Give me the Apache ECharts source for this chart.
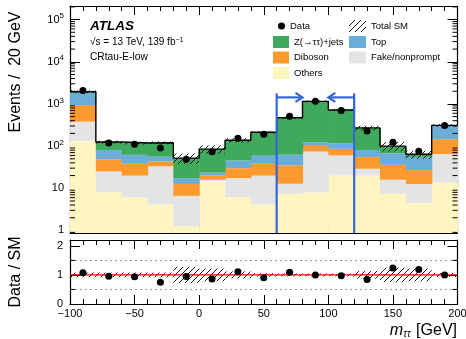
<!DOCTYPE html>
<html>
<head>
<meta charset="utf-8">
<script src="https://cdn.jsdelivr.net/npm/echarts@6/dist/echarts.min.js"></script>
<style>
  html, body { margin: 0; padding: 0; background: #fff; }
  #chart { width: 466px; height: 339px; }
</style>
</head>
<body>
<div id="chart"></div>
<script>
// m_tautau distribution in CRtau-E-low, 20 GeV bins from -100 to 200 GeV
const binLowEdges = [-100, -80, -60, -40, -20, 0, 20, 40, 60, 80, 100, 120, 140, 160, 180];
const binWidth = 20;

// Expected yields per process (events / bin)
const others        = [133, 8.1, 6.1, 4.1, 1.25, 15, 6.2, 4.1, 7.3, 7.9, 20, 20, 7.4, 4.5, 13.7];
const fakeNonprompt = [247, 16.9, 13.9, 28.9, 5.35, 0.8, 11.2, 15.9, 5.5, 66, 40, 9, 8.5, 8.1, 51.3];
const diboson       = [560, 24, 18, 10, 6.0, 4.2, 12.6, 18, 22.2, 27, 26, 26, 20, 14.4, 81];
const topQuark      = [910, 32, 24, 13, 4.8, 3.5, 15.5, 21, 27, 23, 31, 26, 32, 28, 154];
const zTauTau       = [100, 44, 56, 64, 34.6, 61.5, 92.5, 154, 408, 1026, 603, 189, 32, 9, 10];

// Observed events per bin
const dataCounts    = [2090, 119, 111, 90, 49, 73, 153, 192, 512, 1150, 698, 227, 124, 76, 310];

// Relative uncertainty on the total SM prediction
const relUncertainty = [0.08, 0.08, 0.08, 0.08, 0.28, 0.22, 0.12, 0.06, 0.05, 0.05, 0.05, 0.13, 0.25, 0.22, 0.07];

// Signal-region mass window and arrow annotations (GeV, events)
const massWindow = [60, 120];
const arrowTips = [80, 100];
const arrowLevel = 1430;
const windowLineTop = 1780;

const FONT = '"Liberation Sans", Arial, Helvetica, sans-serif';
const Y_MIN = 0.87, Y_MAX = 2.1e5;
const R_MIN = 0, R_MAX = 2.2;

const layers = [
  { name: 'Others',         values: others,        color: '#fff5c0' },
  { name: 'Fake/nonprompt', values: fakeNonprompt, color: '#e4e4e4' },
  { name: 'Diboson',        values: diboson,       color: '#fd9a2e' },
  { name: 'Top',            values: topQuark,      color: '#6aaed8' },
  { name: 'Z(\u2192\u03c4\u03c4)+jets', values: zTauTau, color: '#40aa5c' }
];

// cumulative stack
const cumulative = [];
let running = binLowEdges.map(() => 0);
layers.forEach(layer => {
  const lower = running.slice();
  running = running.map((v, i) => v + layer.values[i]);
  cumulative.push({ lower, upper: running.slice() });
});
const totalSM = running;
const centers = binLowEdges.map(x => x + binWidth / 2);
const ratio = dataCounts.map((d, i) => d / totalSM[i]);

// diagonal hatch pattern
function makeHatch() {
  const c = document.createElement('canvas');
  c.width = 6; c.height = 6;
  const g = c.getContext('2d');
  g.strokeStyle = '#000';
  g.lineWidth = 0.9;
  g.beginPath();
  g.moveTo(0, 6); g.lineTo(6, 0);
  g.moveTo(-1, 1); g.lineTo(1, -1);
  g.moveTo(5, 7); g.lineTo(7, 5);
  g.stroke();
  return c;
}
const hatch = { image: makeHatch(), repeat: 'repeat' };

function rectRenderer(fill, overlap) {
  return function (params, api) {
    const lo = api.coord([api.value(0), api.value(2)]);
    const hi = api.coord([api.value(1), api.value(3)]);
    return {
      type: 'rect',
      shape: { x: lo[0], y: hi[1], width: hi[0] - lo[0] + overlap, height: lo[1] - hi[1] },
      style: { fill: fill }
    };
  };
}

// ticks drawn on the left and right frame edges
function edgeTickRenderer(xLeft, xRight, len) {
  return function (params, api) {
    const pL = api.coord([xLeft, api.value(1)]);
    const pR = api.coord([xRight, api.value(1)]);
    return {
      type: 'group',
      children: [
        { type: 'line', shape: { x1: pL[0], y1: pL[1], x2: pL[0] + len, y2: pL[1] }, style: { stroke: '#000', lineWidth: 1 } },
        { type: 'line', shape: { x1: pR[0] - len, y1: pR[1], x2: pR[0], y2: pR[1] }, style: { stroke: '#000', lineWidth: 1 } }
      ]
    };
  };
}

const logMinorTicks = [];
for (let e = -1; e <= 5; e++) {
  for (let m = 2; m <= 9; m++) {
    const v = m * Math.pow(10, e);
    if (v > Y_MIN && v < Y_MAX) logMinorTicks.push([-100, v]);
  }
}
const ratioMinorTicks = [[-100, 0.5], [-100, 1.5]];

const series = [];

layers.forEach((layer, k) => {
  series.push({
    type: 'custom', name: layer.name, xAxisIndex: 0, yAxisIndex: 0, clip: true,
    itemStyle: { color: layer.color },
    renderItem: rectRenderer(layer.color, 0.6),
    encode: { x: [0, 1], y: [2, 3] },
    data: binLowEdges.map((x, i) => [x, x + binWidth, k === 0 ? Y_MIN : cumulative[k].lower[i], cumulative[k].upper[i]]),
    z: 2
  });
});

series.push({
  type: 'custom', name: 'Total SM', xAxisIndex: 0, yAxisIndex: 0, clip: true,
  itemStyle: { color: hatch },
  renderItem: rectRenderer(hatch, 0),
  encode: { x: [0, 1], y: [2, 3] },
  data: binLowEdges.map((x, i) => [x, x + binWidth, totalSM[i] * (1 - relUncertainty[i]), totalSM[i] * (1 + relUncertainty[i])]),
  z: 3
});

const outline = [];
binLowEdges.forEach((x, i) => { outline.push([x, totalSM[i]]); outline.push([x + binWidth, totalSM[i]]); });
series.push({
  type: 'line', name: 'outline', xAxisIndex: 0, yAxisIndex: 0, data: outline,
  symbol: 'none', lineStyle: { color: '#000', width: 1.4 }, z: 4, silent: true
});

series.push({
  type: 'custom', name: 'window', xAxisIndex: 0, yAxisIndex: 0, clip: true, z: 5,
  encode: { x: [0, 1], y: [2, 3] },
  data: massWindow.map((x, i) => [x, arrowTips[i], arrowLevel, windowLineTop]),
  renderItem: function (params, api) {
    const blue = '#3367d6';
    const xLine = api.value(0), xTip = api.value(1);
    const top = api.coord([xLine, api.value(3)]);
    const bottom = api.coord([xLine, Y_MIN]);
    const start = api.coord([xLine, api.value(2)]);
    const tip = api.coord([xTip, api.value(2)]);
    const dir = Math.sign(tip[0] - start[0]);
    return {
      type: 'group',
      children: [
        { type: 'line', shape: { x1: top[0], y1: top[1], x2: bottom[0], y2: bottom[1] }, style: { stroke: blue, lineWidth: 2.2 } },
        { type: 'line', shape: { x1: start[0], y1: start[1], x2: tip[0], y2: tip[1] }, style: { stroke: blue, lineWidth: 2.2 } },
        { type: 'polyline', shape: { points: [[tip[0] - dir * 7, tip[1] - 4.5], [tip[0], tip[1]], [tip[0] - dir * 7, tip[1] + 4.5]] }, style: { stroke: blue, lineWidth: 2.2, fill: null } }
      ]
    };
  }
});

series.push({
  type: 'scatter', name: 'Data', xAxisIndex: 0, yAxisIndex: 0,
  data: centers.map((c, i) => [c, dataCounts[i]]),
  symbol: 'circle', symbolSize: 7, itemStyle: { color: '#000', opacity: 1 }, z: 6
});

series.push({
  type: 'custom', name: 'logMinor', xAxisIndex: 0, yAxisIndex: 0, z: 7, silent: true,
  encode: { x: 0, y: 1 }, data: logMinorTicks,
  renderItem: edgeTickRenderer(-100, 200, 5)
});

// ratio panel
series.push({
  type: 'line', name: 'unity', xAxisIndex: 2, yAxisIndex: 2, data: [[-100, 1], [200, 1]],
  symbol: 'none', lineStyle: { color: '#f00', width: 1.3 }, z: 4, silent: true,
  markLine: {
    silent: true, symbol: 'none', label: { show: false },
    lineStyle: { color: '#9a9a9a', type: [2, 3], width: 1 },
    data: [{ yAxis: 0.5 }, { yAxis: 1.5 }]
  }
});
series.push({
  type: 'custom', name: 'ratioBand', xAxisIndex: 2, yAxisIndex: 2, clip: true, z: 3,
  encode: { x: [0, 1], y: [2, 3] },
  data: binLowEdges.map((x, i) => [x, x + binWidth, 1 - relUncertainty[i], 1 + relUncertainty[i]]),
  renderItem: rectRenderer(hatch, 0)
});
series.push({
  type: 'scatter', name: 'Data / SM', xAxisIndex: 2, yAxisIndex: 2,
  data: centers.map((c, i) => [c, ratio[i]]),
  symbol: 'circle', symbolSize: 7, itemStyle: { color: '#000', opacity: 1 }, z: 6
});
series.push({
  type: 'custom', name: 'ratioMinor', xAxisIndex: 2, yAxisIndex: 2, z: 7, silent: true,
  encode: { x: 0, y: 1 }, data: ratioMinorTicks,
  renderItem: edgeTickRenderer(-100, 200, 5)
});

const axisLine = { show: true, onZero: false, lineStyle: { color: '#000', width: 1.2 } };
const labelStyle = { color: '#000', fontFamily: FONT, fontSize: 11 };

function xAxis(gridIndex, position, labels) {
  return {
    type: 'value', gridIndex, position, min: -100, max: 200, interval: 50,
    axisLine,
    axisTick: { show: true, inside: true, length: 9, lineStyle: { color: '#000', width: 1 } },
    minorTick: { show: true, splitNumber: 5, length: 5, lineStyle: { color: '#000', width: 1 } },
    splitLine: { show: false }, minorSplitLine: { show: false },
    axisLabel: labels ? Object.assign({ margin: 4, formatter: v => v < 0 ? '\u2212' + (-v) : String(v) }, labelStyle) : { show: false }
  };
}

function isPow10(v) {
  const l = Math.log10(v);
  return Math.abs(l - Math.round(l)) < 1e-6;
}

function logAxis(position, labels) {
  return {
    type: 'log', logBase: 10, gridIndex: 0, position, min: Y_MIN, max: Y_MAX,
    axisLine,
    axisTick: { show: true, inside: true, length: 10, lineStyle: { color: '#000', width: 1 } },
    splitLine: { show: false },
    axisLabel: labels ? Object.assign({
      margin: 6,
      formatter: v => {
        if (!isPow10(v)) return '';
        const e = Math.round(Math.log10(v));
        if (e === 0) return '1';
        if (e === 1) return '10';
        return '10{sup|' + e + '}';
      },
      rich: { sup: { fontSize: 8, fontFamily: FONT, color: '#000', padding: [0, 0, 7, 0] } }
    }, labelStyle) : { show: false }
  };
}

function ratioAxis(position, labels) {
  return {
    type: 'value', gridIndex: 1, position, min: R_MIN, max: R_MAX, interval: 1,
    axisLine,
    axisTick: { show: true, inside: true, length: 10, lineStyle: { color: '#000', width: 1 } },
    splitLine: { show: false },
    axisLabel: labels ? Object.assign({ margin: 7, formatter: v => Number.isInteger(v) ? String(v) : '' }, labelStyle) : { show: false }
  };
}

const legendText = { color: '#000', fontFamily: FONT, fontSize: 9.5, lineHeight: 12 };

const option = {
  animation: false,
  backgroundColor: '#fff',
  grid: [
    { left: 70, top: 6, width: 387.5, height: 227, outerBoundsMode: 'none', containLabel: false },
    { left: 70, top: 240, width: 387.5, height: 64, outerBoundsMode: 'none', containLabel: false }
  ],
  xAxis: [xAxis(0, 'bottom', false), xAxis(0, 'top', false), xAxis(1, 'bottom', true), xAxis(1, 'top', false)],
  yAxis: [logAxis('left', true), logAxis('right', false), ratioAxis('left', true), ratioAxis('right', false)],
  legend: [
    { data: [{ name: 'Data', icon: 'circle', itemStyle: { color: '#000', opacity: 1 } }], left: 278, top: 20, padding: 0, itemWidth: 7, itemHeight: 7, textStyle: legendText, selectedMode: false },
    { data: ['Z(\u2192\u03c4\u03c4)+jets', 'Diboson', 'Others'], orient: 'vertical', left: 273, top: 36, padding: 0, itemGap: 3.5, itemWidth: 16, itemHeight: 12, icon: 'rect', textStyle: legendText, selectedMode: false },
    { data: [{ name: 'Total SM', icon: 'rect' }], left: 349, top: 20, padding: 0, itemWidth: 17, itemHeight: 12, textStyle: legendText, selectedMode: false },
    { data: ['Top', 'Fake/nonprompt'], orient: 'vertical', left: 349, top: 36, padding: 0, itemGap: 3.5, itemWidth: 17, itemHeight: 12, icon: 'rect', textStyle: legendText, selectedMode: false }
  ],
  graphic: [
    { type: 'text', x: 90, y: 26.3, style: { text: 'ATLAS', fontFamily: FONT, fontSize: 13.5, fontWeight: 'bold', fontStyle: 'italic', fill: '#000', verticalAlign: 'middle' } },
    { type: 'text', x: 90, y: 42.7, style: { text: '\u221as = 13 TeV, 139 fb{sup|\u22121}', fontFamily: FONT, fontSize: 10, fill: '#000', verticalAlign: 'middle', rich: { sup: { fontSize: 7, fontFamily: FONT, fill: '#000', padding: [0, 0, 5, 0] } } } },
    { type: 'text', x: 90, y: 57.3, style: { text: 'CRtau-E-low', fontFamily: FONT, fontSize: 10.2, fill: '#000', verticalAlign: 'middle' } },
    { type: 'text', x: 15.7, y: 72, rotation: Math.PI / 2, style: { text: 'Events /  20 GeV', fontFamily: FONT, fontSize: 16, fill: '#000', align: 'center', verticalAlign: 'middle' } },
    { type: 'text', x: 15.7, y: 272, rotation: Math.PI / 2, style: { text: 'Data / SM', fontFamily: FONT, fontSize: 16, fill: '#000', align: 'center', verticalAlign: 'middle' } },
    { type: 'text', x: 457, y: 331, style: { text: '{m|m}{s|\u03c4\u03c4} [GeV]', fontFamily: FONT, fontSize: 16, fill: '#000', align: 'right', verticalAlign: 'middle',
      rich: { m: { fontFamily: FONT, fontSize: 16, fontStyle: 'italic', fill: '#000' }, s: { fontFamily: FONT, fontSize: 10, fontStyle: 'italic', fill: '#000', padding: [7, 1, 0, 0] } } } }
  ],
  series
};

const chart = echarts.init(document.getElementById('chart'), null, { renderer: 'canvas' });
chart.setOption(option);
</script>
</body>
</html>
